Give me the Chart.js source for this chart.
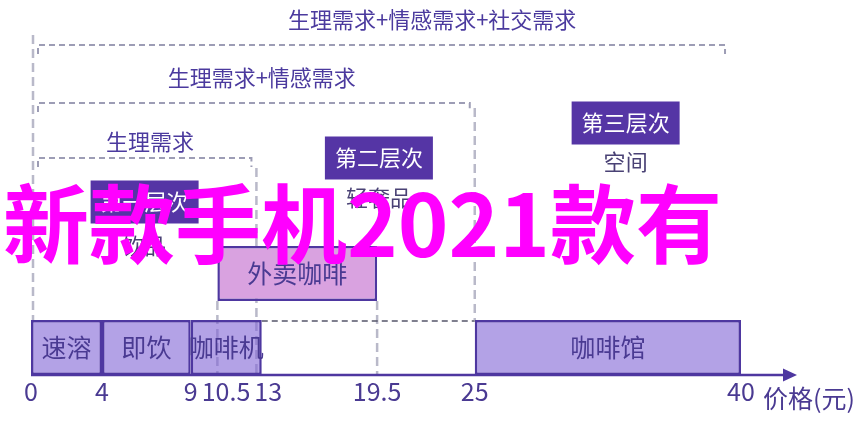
<!DOCTYPE html>
<html><head><meta charset="utf-8">
<script src="https://cdn.jsdelivr.net/npm/chart.js@4.4.0/dist/chart.umd.min.js"></script>
<style>html,body{margin:0;padding:0;background:#fff;} #wrap{width:864px;height:429px;}</style>
</head><body><div id="wrap"><canvas id="c" width="864" height="429"></canvas></div>
<script>
// ---- data ----
const rows = ['need3', 'need2', 'need1', 'delivery', 'retail'];
const items = ['速溶', '即饮', '咖啡机', '咖啡馆', '外卖咖啡'];
const itemRow = ['retail', 'retail', 'retail', 'retail', 'delivery'];
const priceFrom = [0, 4, 9, 25, 10.5];
const priceTo = [4, 9, 13, 40, 19.5];
const priceTicks = [0, 4, 9, 10.5, 13, 19.5, 25, 40];
const needs = ['生理需求', '生理需求+情感需求', '生理需求+情感需求+社交需求'];
const needTo = [12.7, 25, 39.1];
const needLabelAt = [6.7, 13, 22.6];
const levels = ['第一层次', '第二层次', '第三层次'];
const levelGoods = ['饮品', '轻奢品', '空间'];
const levelAt = [6.4, 19.6, 33.5];
const axisTitle = '价格(元)';
const watermark = '新款手机2021款有';

const FONT = '"Noto Sans CJK SC","Noto Sans",sans-serif';
const PURPLE_TEXT = '#4a3a92';

const decor = {
  id: 'decor',
  beforeDatasetsDraw(chart) {
    const ctx = chart.ctx, x = chart.scales.x;
    const els = chart.getDatasetMeta(0).data;
    const top = el => el.y - el.height / 2, bot = el => el.y + el.height / 2;
    const retail = els[0], deliv = els[4];
    ctx.save();
    // vertical guide lines
    ctx.strokeStyle = '#b9b9c9'; ctx.lineWidth = 2.5; ctx.setLineDash([9, 5]);
    const vline = (px, y1, y2) => { ctx.beginPath(); ctx.moveTo(px, y1); ctx.lineTo(px, y2); ctx.stroke(); };
    vline(x.getPixelForValue(0) + 2, 35, top(retail));
    vline(x.getPixelForValue(needTo[0]), 168, bot(retail));
    vline(x.getPixelForValue(needTo[1]), 108, top(retail));
    vline(x.getPixelForValue(priceFrom[4]), bot(deliv), bot(retail));
    vline(x.getPixelForValue(priceTo[4]), bot(deliv), bot(retail));
    // brackets
    ctx.strokeStyle = '#9d9db5'; ctx.lineWidth = 2; ctx.setLineDash([6, 4]);
    const bracketY = [158, 103, 45];
    const labelY = [142, 78, 20];
    needs.forEach((n, i) => {
      const x1 = x.getPixelForValue(0) + 7;
      const x2 = x.getPixelForValue(needTo[i]) - (i < 2 ? 5 : 0);
      const y = bracketY[i];
      ctx.beginPath(); ctx.moveTo(x1, y + 9); ctx.lineTo(x1, y); ctx.lineTo(x2, y); ctx.lineTo(x2, y + 9); ctx.stroke();
    });
    ctx.setLineDash([]);
    ctx.fillStyle = '#4b3a9e'; ctx.font = '22px ' + FONT; ctx.textAlign = 'center'; ctx.textBaseline = 'middle';
    needs.forEach((n, i) => ctx.fillText(n, x.getPixelForValue(needLabelAt[i]), labelY[i]));
    // level boxes
    const boxY = [202, 158, 123], subY = [246, 198, 162];
    levels.forEach((l, i) => {
      const cx = x.getPixelForValue(levelAt[i]);
      ctx.fillStyle = '#5535a5';
      ctx.fillRect(cx - 54, boxY[i] - 21.5, 108, 43);
      ctx.fillStyle = '#ffffff'; ctx.font = '22px ' + FONT;
      ctx.fillText(l, cx, boxY[i]);
      ctx.fillStyle = '#4a4275';
      ctx.fillText(levelGoods[i], cx, subY[i]);
    });
    ctx.restore();
  },
  afterDatasetsDraw(chart) {
    const ctx = chart.ctx, x = chart.scales.x;
    const els = chart.getDatasetMeta(0).data;
    const retail = els[0];
    const rTop = retail.y - retail.height / 2, rBot = retail.y + retail.height / 2;
    ctx.save();
    // bar labels
    ctx.fillStyle = PURPLE_TEXT; ctx.font = '25px ' + FONT; ctx.textAlign = 'center'; ctx.textBaseline = 'middle';
    els.forEach((el, i) => ctx.fillText(items[i], (el.x + el.base) / 2, el.y));
    // dashed gap line on retail row
    ctx.strokeStyle = '#55556a'; ctx.lineWidth = 1.5; ctx.setLineDash([6, 4]);
    ctx.beginPath(); ctx.moveTo(x.getPixelForValue(priceTo[2]), rTop + 1); ctx.lineTo(x.getPixelForValue(priceFrom[3]), rTop + 1); ctx.stroke();
    ctx.setLineDash([]);
    // axis line + arrow
    const x0 = x.getPixelForValue(0), tip = x.getPixelForValue(40) + 56;
    ctx.strokeStyle = '#4e37a0'; ctx.lineWidth = 2.5;
    ctx.beginPath(); ctx.moveTo(x0, rBot); ctx.lineTo(tip - 10, rBot); ctx.stroke();
    ctx.fillStyle = '#4e37a0';
    ctx.beginPath(); ctx.moveTo(tip, rBot); ctx.lineTo(tip - 14, rBot - 6.5); ctx.lineTo(tip - 14, rBot + 6.5); ctx.closePath(); ctx.fill();
    // tick labels (pushed right when they collide)
    ctx.font = '25px ' + FONT; ctx.fillStyle = PURPLE_TEXT; ctx.textBaseline = 'alphabetic'; ctx.textAlign = 'center';
    const labs = priceTicks.map(v => ({ t: String(v), c: x.getPixelForValue(v), w: ctx.measureText(String(v)).width }));
    for (let i = 1; i < labs.length; i++) {
      const a = labs[i - 1], b = labs[i];
      const ov = (a.c + a.w / 2 + 4) - (b.c - b.w / 2);
      if (ov > 0) b.c += ov;
    }
    labs.forEach(l => ctx.fillText(l.t, l.c, rBot + 26));
    ctx.textAlign = 'left'; ctx.textBaseline = 'middle';
    ctx.fillText(axisTitle, x.getPixelForValue(40) + 22, rBot + 23);
    ctx.restore();
  },
  afterDraw(chart) {
    const ctx = chart.ctx;
    ctx.save();
    ctx.fillStyle = '#ff00ff'; ctx.font = 'bold 86px ' + FONT; ctx.textAlign = 'left'; ctx.textBaseline = 'middle';
    ctx.fillText(watermark, 3, 224);
    ctx.restore();
  }
};

new Chart(document.getElementById('c'), {
  type: 'bar',
  data: {
    datasets: [{
      data: items.map((n, i) => ({ y: itemRow[i], x: [priceFrom[i], priceTo[i]] })),
      backgroundColor: itemRow.map(r => r === 'delivery' ? '#d9a2e0' : 'rgba(128,100,213,0.6)'),
      borderColor: '#4e37a0',
      borderWidth: 2.5,
      borderSkipped: false,
      categoryPercentage: 55 / 74,
      barPercentage: 1
    }]
  },
  options: {
    indexAxis: 'y',
    responsive: false,
    animation: false,
    layout: { padding: { left: 31, right: 123, top: 14.5, bottom: 44.5 } },
    plugins: { legend: { display: false }, tooltip: { enabled: false } },
    scales: {
      x: { type: 'linear', min: 0, max: 40, display: false },
      y: { type: 'category', labels: rows, display: false }
    }
  },
  plugins: [decor]
});
</script>
</body></html>
